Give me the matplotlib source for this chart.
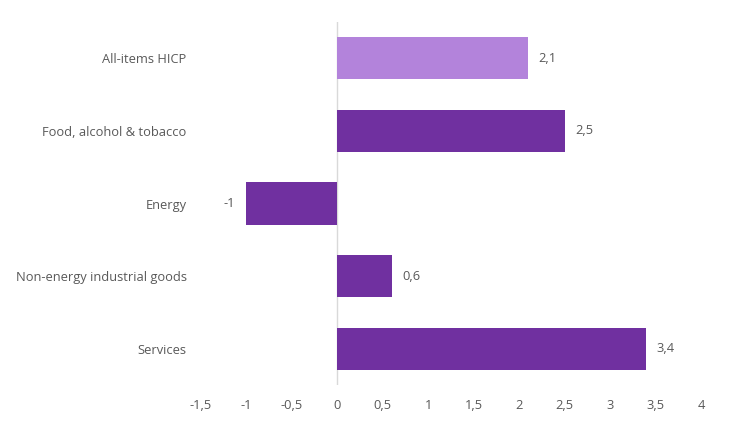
import matplotlib.pyplot as plt

categories = ["All-items HICP", "Food, alcohol & tobacco", "Energy",
              "Non-energy industrial goods", "Services"]
values = [2.1, 2.5, -1.0, 0.6, 3.4]
colors = ["#B383DB", "#7030A0", "#7030A0", "#7030A0", "#7030A0"]
xticks = [-1.5, -1, -0.5, 0, 0.5, 1, 1.5, 2, 2.5, 3, 3.5, 4]

plt.rcParams['font.family'] = ['Open Sans', 'DejaVu Sans']
txt = "#595959"

fig = plt.figure(figsize=(7.54, 4.23), dpi=100)
ax = fig.add_axes([0.266, 0.0898, 0.6637, 0.858])

pos = list(range(len(categories)))
ax.barh(pos, values, height=0.58, color=colors)
ax.set_ylim(len(categories) - 0.5, -0.5)
ax.set_xlim(-1.5, 4)

def fmt(v):
    s = ("%g" % v).replace(".", ",")
    return s

for p, v in zip(pos, values):
    if v >= 0:
        ax.annotate(fmt(v), (v, p), xytext=(7.5, 0), textcoords="offset points",
                    ha="left", va="center", fontsize=9.3, color=txt)
    else:
        ax.annotate(fmt(v), (v, p), xytext=(-8, 0), textcoords="offset points",
                    ha="right", va="center", fontsize=9.3, color=txt)

ax.set_yticks(pos)
ax.set_yticklabels(categories)
ax.set_xticks(xticks)
ax.set_xticklabels([fmt(t) for t in xticks])
ax.tick_params(axis="y", length=0, pad=10, labelsize=9.3, labelcolor=txt)
ax.tick_params(axis="x", length=0, pad=10, labelsize=9.3, labelcolor=txt)
for s in ax.spines.values():
    s.set_visible(False)
ax.axvline(0, color="#D9D9D9", lw=1, zorder=0)

fig.savefig("out.png", dpi=100)
